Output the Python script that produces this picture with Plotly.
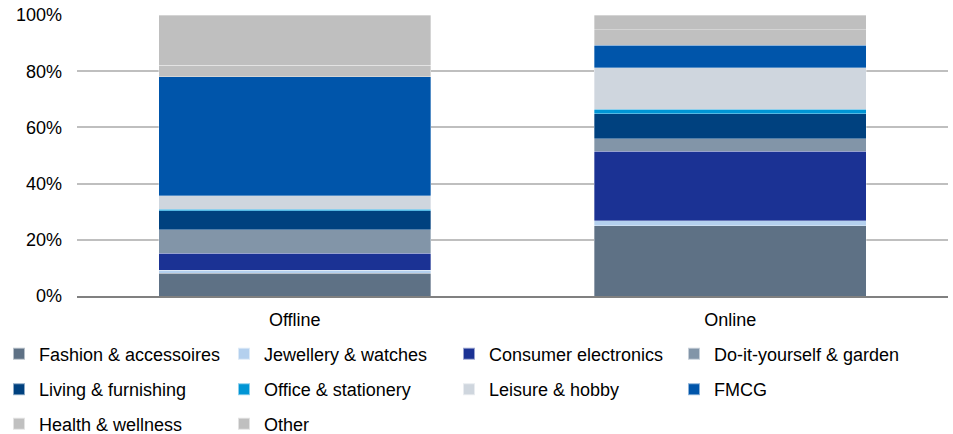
import plotly.graph_objects as go

channels = ["Offline", "Online"]
series_names = [
    "Fashion & accessoires", "Jewellery & watches", "Consumer electronics",
    "Do-it-yourself & garden", "Living & furnishing", "Office & stationery",
    "Leisure & hobby", "FMCG", "Health & wellness", "Other",
]
offline = [8.1, 1.0, 6.1, 8.3, 6.9, 0.5, 4.8, 42.4, 4.1, 17.8]
online = [25.0, 1.8, 24.8, 4.3, 9.0, 1.6, 14.8, 7.9, 5.6, 5.2]
colors = ["#5e7185", "#b4d0ee", "#1b3294", "#8295a8", "#00417f",
          "#0095d5", "#cfd6de", "#0055aa", "#c0c0c0", "#bfbfbf"]
tick_vals = [0, 20, 40, 60, 80, 100]
tick_text = ["0%", "20%", "40%", "60%", "80%", "100%"]

W, H = 953, 434
ml, mr, mt, mb = 77, 5, 15, 138
pw = W - ml - mr
ph = H - mt - mb

fig = go.Figure()
legend_ids = ["legend", "legend2", "legend3"]
for i, name in enumerate(series_names):
    fig.add_trace(go.Bar(
        x=channels, y=[offline[i], online[i]], name=name,
        marker=dict(color=colors[i], line=dict(color="rgba(255,255,255,0.55)", width=0.6)),
        legend=legend_ids[i // 4],
        hovertemplate="%{x}: %{y}%<extra>" + name + "</extra>",
    ))

row_px = [354, 389.5, 424]
leg_common = dict(orientation="h", xanchor="left", yanchor="middle",
                  x=-(ml + 1) / pw, entrywidth=180, entrywidthmode="pixels",
                  font=dict(family="Liberation Sans, Arial, sans-serif", size=18, color="#000000"),
                  bgcolor="rgba(0,0,0,0)", traceorder="normal", itemsizing="constant")
legends = {}
for k, lid in enumerate(legend_ids):
    legends[lid] = dict(leg_common, y=(mt + ph - row_px[k]) / ph)

fig.update_layout(
    width=W, height=H,
    margin=dict(l=ml, r=mr, t=mt, b=mb, pad=0, autoexpand=False),
    barmode="stack", bargap=0.375,
    plot_bgcolor="white", paper_bgcolor="white",
    font=dict(family="Liberation Sans, Arial, sans-serif", size=18, color="#000000"),
    xaxis=dict(showgrid=False, showline=True, linecolor="#808080", linewidth=2,
               ticks="", tickfont=dict(size=18), ticklabelstandoff=6, fixedrange=True),
    yaxis=dict(range=[0, 100], tickmode="array", tickvals=tick_vals, ticktext=tick_text,
               showgrid=True, gridcolor="#bfbfbf", gridwidth=1.5,
               zeroline=False, showline=False, ticks="", ticklen=0,
               ticklabelstandoff=14,
               tickfont=dict(size=18), fixedrange=True),
    showlegend=True,
    **legends,
)

fig.write_html("out.html", config={"displayModeBar": False},
               post_script="document.body.style.margin='0px';document.body.style.overflow='hidden';")
